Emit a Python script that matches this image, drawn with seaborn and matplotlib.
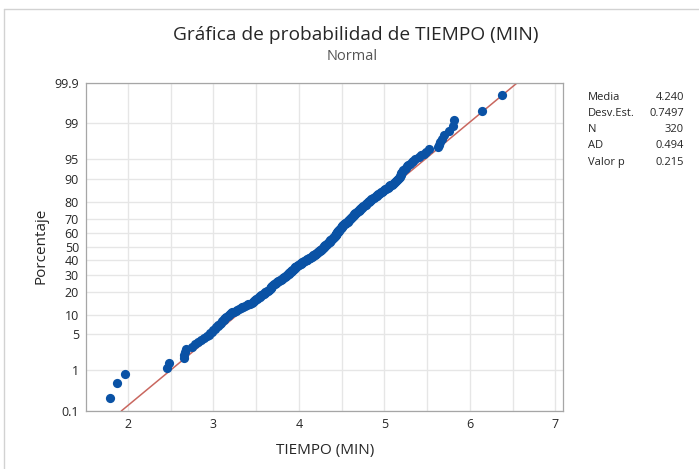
import numpy as np
import pandas as pd
import matplotlib
matplotlib.use("Agg")
import matplotlib.pyplot as plt
import seaborn as sns
from matplotlib.lines import Line2D
from matplotlib.ticker import MultipleLocator, NullLocator
from statistics import NormalDist

# TIEMPO (MIN), 320 valores (ordenados)
tiempo = [
    1.79, 1.87, 1.97, 2.46, 2.48, 2.66, 2.66, 2.67, 2.68,
    2.75, 2.78, 2.82, 2.85,
    2.89, 2.93,
    2.95, 2.96, 2.98, 3.00,
    3.02, 3.03, 3.05, 3.06, 3.08,
    3.09, 3.10, 3.12, 3.13, 3.14, 3.15,
    3.17, 3.18, 3.20, 3.21, 3.22, 3.24,
    3.26, 3.28, 3.30, 3.32, 3.33, 3.35,
    3.37, 3.39, 3.41, 3.43, 3.45, 3.46, 3.47,
    3.48, 3.49, 3.50, 3.51, 3.52, 3.53, 3.54, 3.55, 3.56, 3.57,
    3.58, 3.59, 3.60, 3.61, 3.62, 3.63, 3.64, 3.65,
    3.66, 3.66, 3.67, 3.67, 3.68, 3.68, 3.69, 3.69, 3.70,
    3.71, 3.72, 3.73, 3.73, 3.74, 3.75, 3.76, 3.77, 3.78, 3.79, 3.80, 3.80, 3.81, 3.82, 3.83, 3.84,
    3.85, 3.85, 3.86, 3.86, 3.87, 3.88, 3.88, 3.89, 3.89, 3.90, 3.91,
    3.91, 3.92, 3.92, 3.93, 3.94, 3.94, 3.95, 3.95, 3.96, 3.96, 3.97,
    3.98, 3.98, 3.99, 4.00, 4.01, 4.01, 4.02, 4.03, 4.04, 4.04, 4.05,
    4.06, 4.07, 4.08, 4.09, 4.09, 4.10, 4.11, 4.12, 4.13, 4.13, 4.14, 4.15,
    4.16, 4.16, 4.17, 4.18, 4.19, 4.19, 4.20, 4.21, 4.21, 4.22, 4.23, 4.23, 4.24, 4.25, 4.25, 4.26,
    4.26, 4.27, 4.27, 4.28, 4.28, 4.29, 4.29, 4.30, 4.30, 4.31,
    4.31, 4.32, 4.32, 4.33, 4.33, 4.34, 4.34, 4.35, 4.35, 4.36,
    4.36, 4.37, 4.37, 4.38, 4.38, 4.39, 4.39, 4.40, 4.40, 4.41, 4.41,
    4.41, 4.42, 4.42, 4.43, 4.43, 4.43, 4.44, 4.44, 4.45, 4.45, 4.45, 4.46, 4.46, 4.46, 4.47, 4.47,
    4.47, 4.48, 4.48, 4.49, 4.49, 4.49, 4.50, 4.50, 4.51, 4.51, 4.52, 4.52, 4.53, 4.54, 4.54,
    4.55, 4.55, 4.56, 4.57, 4.57, 4.58, 4.59, 4.59, 4.60, 4.60, 4.61,
    4.61, 4.62, 4.62, 4.63, 4.63, 4.64, 4.65,
    4.65, 4.66, 4.66, 4.67, 4.68, 4.68, 4.69, 4.70, 4.70, 4.71, 4.72, 4.72,
    4.73, 4.74, 4.74, 4.75, 4.76, 4.77, 4.78, 4.78, 4.79, 4.80, 4.81, 4.82, 4.82, 4.83, 4.84,
    4.85, 4.86, 4.87, 4.88, 4.89, 4.90, 4.91, 4.92, 4.93, 4.94, 4.95, 4.96, 4.97, 4.98, 5.00,
    5.01, 5.02, 5.04, 5.05, 5.06, 5.07, 5.09, 5.10, 5.11, 5.12, 5.14, 5.15,
    5.16, 5.17, 5.18, 5.18, 5.19, 5.20, 5.20, 5.21, 5.22, 5.22,
    5.24, 5.25, 5.27, 5.28, 5.30,
    5.32, 5.34, 5.36,
    5.40, 5.43, 5.46, 5.49, 5.52,
    5.63, 5.64, 5.65, 5.67, 5.70, 5.76, 5.80, 5.81, 6.14, 6.38,
]

pct_ticks = [0.1, 1, 5, 10, 20, 30, 40, 50, 60, 70, 80, 90, 95, 99, 99.9]
pct_labels = ["0.1", "1", "5", "10", "20", "30", "40", "50", "60", "70", "80", "90", "95", "99", "99.9"]
x_ticks = [2, 3, 4, 5, 6, 7]

stat_names = ["Media", "Desv.Est.", "N", "AD", "Valor p"]
stat_values = ["4.240", "0.7497", "320", "0.494", "0.215"]
media = 4.240
desv = 0.7497

azul = "#0A52A5"
rojo = "#C9675F"
gris = "#262626"

df = pd.DataFrame({"TIEMPO": sorted(tiempo)})
n = len(df)
# posiciones de grafica (rango mediano de Benard, como Minitab)
df["Porcentaje"] = (np.arange(1, n + 1) - 0.3) / (n + 0.4) * 100

nd = NormalDist()


def a_z(p):
    p = np.clip(np.asarray(p, dtype=float) / 100.0, 1e-7, 1 - 1e-7)
    return np.vectorize(nd.inv_cdf, otypes=[float])(p)


def a_pct(z):
    return np.vectorize(nd.cdf, otypes=[float])(np.asarray(z, dtype=float)) * 100


linea = pd.DataFrame({"Porcentaje": [pct_ticks[0], pct_ticks[-1]]})
linea["TIEMPO"] = [media + desv * nd.inv_cdf(p / 100) for p in linea["Porcentaje"]]

sns.set_style("white")
plt.rcParams["font.family"] = ["Open Sans", "DejaVu Sans"]

fig = plt.figure(figsize=(6.99, 4.69), dpi=100)
ax = fig.add_axes([0.123, 0.1237, 0.6824, 0.700])
ax.set_yscale("function", functions=(a_z, a_pct))

ax.plot(linea["TIEMPO"], linea["Porcentaje"], color=rojo, lw=1.1, zorder=2)
sns.scatterplot(data=df, x="TIEMPO", y="Porcentaje", ax=ax, color=azul,
                s=44, linewidth=0, zorder=3, legend=False)

ax.set_xlim(1.51, 7.09)
ax.set_ylim(0.1, 99.9)
ax.set_yticks(pct_ticks)
ax.set_yticklabels(pct_labels)
ax.yaxis.set_minor_locator(NullLocator())
ax.set_xticks(x_ticks)
ax.xaxis.set_minor_locator(MultipleLocator(0.5))
ax.grid(True, which="both", axis="x", color="#E6E6E6", lw=1)
ax.grid(True, which="major", axis="y", color="#E6E6E6", lw=1)
ax.set_axisbelow(True)
ax.set_xlabel("")
ax.set_ylabel("")
ax.tick_params(which="major", length=3, width=0.8, color="#9A9A9A",
               labelsize=9, labelcolor=gris, pad=2)
ax.tick_params(which="minor", length=0)
for s in ax.spines.values():
    s.set_color("#A6A6A6")
    s.set_linewidth(0.9)

fig.text(356 / 699, 1 - 35 / 469, "Gráfica de probabilidad de TIEMPO (MIN)",
         ha="center", va="center", fontsize=13.8, color=gris)
fig.text(352 / 699, 1 - 57 / 469, "Normal", ha="center", va="center",
         fontsize=10.5, color="#555555")
fig.text(325 / 699, 1 - 450 / 469, "TIEMPO (MIN)", ha="center", va="center",
         fontsize=11, color=gris)
fig.text(41 / 699, 1 - 246 / 469, "Porcentaje", ha="center", va="center",
         rotation=90, fontsize=11, color=gris)

for k, (nom, val) in enumerate(zip(stat_names, stat_values)):
    yy = 1 - (97 + 16.3 * k) / 469
    fig.text(588 / 699, yy, nom, ha="left", va="center", fontsize=8, color=gris)
    fig.text(684 / 699, yy, val, ha="right", va="center", fontsize=8, color=gris)

# marco de la figura
fig.add_artist(Line2D([4 / 699, 1], [1 - 9 / 469, 1 - 9 / 469], color="#D2D2D2", lw=1))
fig.add_artist(Line2D([4 / 699, 4 / 699], [0, 1 - 9 / 469], color="#D2D2D2", lw=1))

fig.savefig("out.png", dpi=100)
